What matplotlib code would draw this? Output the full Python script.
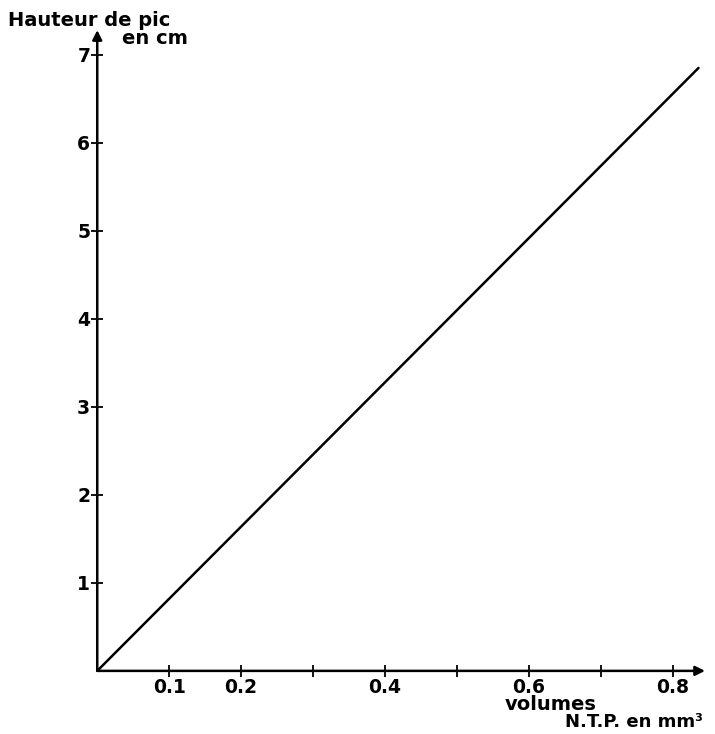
import matplotlib.pyplot as plt

# data
volumes = [0.0, 0.836]          # volume N.T.P. en mm3
hauteurs = [0.0, 6.85]          # hauteur de pic en cm

x_ticks = [0.1, 0.2, 0.3, 0.4, 0.5, 0.6, 0.7, 0.8]
x_labels = ['0.1', '0.2', '', '0.4', '', '0.6', '', '0.8']
y_ticks = [1, 2, 3, 4, 5, 6, 7]
y_labels = ['1', '2', '3', '4', '5', '6', '7']

fig = plt.figure(figsize=(7.15, 7.34), dpi=100)
ax = fig.add_axes([0.136, 0.086, 0.850, 0.873])

ax.plot(volumes, hauteurs, color='black', linewidth=1.8, solid_capstyle='round')

ax.set_xlim(0, 0.845)
ax.set_ylim(0, 7.28)

for s in ax.spines.values():
    s.set_visible(False)

# axes drawn as arrows
arrow = dict(arrowstyle='-|>', color='black', lw=1.8, mutation_scale=14,
             shrinkA=0, shrinkB=0)
ax.annotate('', xy=(1.0, 0), xytext=(0, 0), xycoords='axes fraction',
            arrowprops=arrow, annotation_clip=False)
ax.annotate('', xy=(0, 1.0), xytext=(0, 0), xycoords='axes fraction',
            arrowprops=arrow, annotation_clip=False)

ax.set_xticks(x_ticks)
ax.set_xticklabels(x_labels, fontsize=13.5, fontweight='bold')
ax.set_yticks(y_ticks)
ax.set_yticklabels(y_labels, fontsize=13.5, fontweight='bold')
ax.tick_params(direction='inout', length=8, width=1.3, pad=1)

fig.text(0.011, 0.972, 'Hauteur de pic', fontsize=14, fontweight='bold',
         ha='left', va='center')
fig.text(0.170, 0.948, 'en cm', fontsize=14, fontweight='bold',
         ha='left', va='center')
fig.text(0.706, 0.040, 'volumes', fontsize=14, fontweight='bold',
         ha='left', va='center')
fig.text(0.790, 0.016, 'N.T.P. en mm³', fontsize=13, fontweight='bold',
         ha='left', va='center')

fig.savefig('out.png', dpi=100, facecolor='white')
